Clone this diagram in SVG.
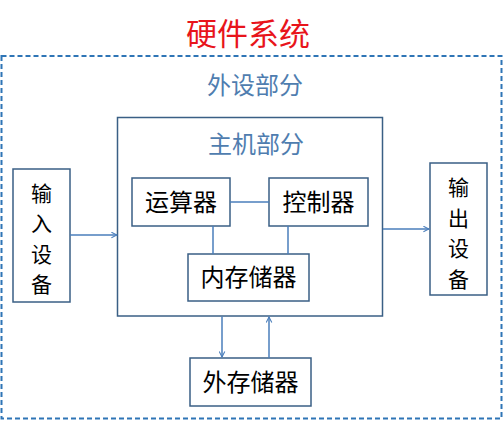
<svg xmlns="http://www.w3.org/2000/svg" width="503" height="421" viewBox="0 0 503 421">
<defs>
<style>
.box{fill:#fff;stroke:#3A5F85;stroke-width:1.5}
.lbl{font-family:"Noto Sans CJK SC","Noto Sans CJK JP",sans-serif;font-size:24px;fill:#000;text-anchor:middle}
.vl{font-family:"Noto Sans CJK SC","Noto Sans CJK JP",sans-serif;font-size:21px;fill:#000;text-anchor:middle}
.blue{font-family:"Noto Sans CJK SC",sans-serif;font-size:24px;fill:#4F7DAF;text-anchor:middle}
.con{stroke:#4A7EBB;stroke-width:1.5;fill:none}
</style>
<marker id="ah" viewBox="0 0 10 10" refX="9" refY="5" markerWidth="7" markerHeight="7" orient="auto" markerUnits="userSpaceOnUse">
<path d="M1,1 L9,5 L1,9" fill="none" stroke="#4A7EBB" stroke-width="1.5"/>
</marker>
</defs>
<rect width="503" height="421" fill="#fff"/>
<text x="248" y="45" font-family="Noto Sans CJK SC,sans-serif" font-size="31" fill="#E8141B" text-anchor="middle">硬件系统</text>
<g id="peripheral">
<rect x="1.5" y="56" width="500" height="362.5" fill="none" stroke="#2E75B6" stroke-width="2" stroke-dasharray="5,3"/>
<text class="blue" x="255" y="94">外设部分</text>
</g>
<g id="host">
<rect class="box" x="117.5" y="117.5" width="265" height="198.5"/>
<text class="blue" x="256" y="153">主机部分</text>
</g>
<g id="alu">
<rect class="box" x="132" y="178" width="98" height="48"/>
<text class="lbl" x="181" y="211">运算器</text>
</g>
<g id="ctrl">
<rect class="box" x="269" y="178" width="99" height="48"/>
<text class="lbl" x="318.5" y="211">控制器</text>
</g>
<g id="mem">
<rect class="box" x="188" y="254" width="121" height="47"/>
<text class="lbl" x="248.5" y="286">内存储器</text>
</g>
<g id="input">
<rect class="box" x="13" y="169" width="57" height="133"/>
<text class="vl" x="41.5" y="200.5">输</text>
<text class="vl" x="41.5" y="231">入</text>
<text class="vl" x="41.5" y="261.5">设</text>
<text class="vl" x="41.5" y="292">备</text>
</g>
<g id="output">
<rect class="box" x="430" y="163" width="57" height="132"/>
<text class="vl" x="458.5" y="195">输</text>
<text class="vl" x="458.5" y="225.5">出</text>
<text class="vl" x="458.5" y="256">设</text>
<text class="vl" x="458.5" y="286.5">备</text>
</g>
<g id="ext">
<rect class="box" x="190" y="358" width="121" height="48"/>
<text class="lbl" x="250.5" y="391">外存储器</text>
</g>
<g id="connectors">
<line class="con" x1="70" y1="235" x2="117" y2="235" marker-end="url(#ah)"/>
<line class="con" x1="383" y1="229" x2="429" y2="229" marker-end="url(#ah)"/>
<line class="con" x1="230" y1="202" x2="269" y2="202"/>
<line class="con" x1="213" y1="226" x2="213" y2="254"/>
<line class="con" x1="288" y1="226" x2="288" y2="254"/>
<line class="con" x1="222" y1="316.5" x2="222" y2="357" marker-end="url(#ah)"/>
<line class="con" x1="269" y1="358" x2="269" y2="317" marker-end="url(#ah)"/>
</g>
</svg>
